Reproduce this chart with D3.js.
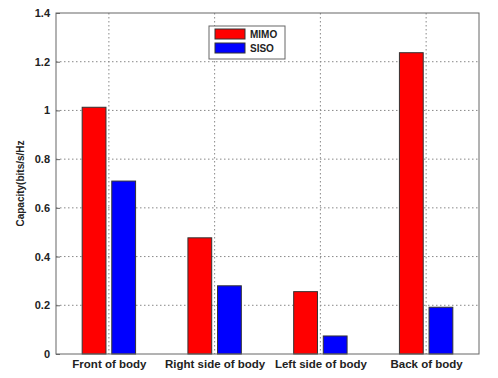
<!DOCTYPE html>
<html>
<head>
<meta charset="utf-8">
<script src="https://cdn.jsdelivr.net/npm/d3@7"></script>
<style>
  body { margin: 0; background: #fff; }
  text { font-family: "Liberation Sans", Arial, sans-serif; font-weight: bold; fill: #222; }
</style>
</head>
<body>
<svg id="chart" width="498" height="378"></svg>
<script>
// data
const categories = ['Front of body', 'Right side of body', 'Left side of body', 'Back of body'];
const seriesNames = ['MIMO', 'SISO'];
const mimoValues = [1.013, 0.477, 0.256, 1.237];
const sisoValues = [0.710, 0.280, 0.074, 0.192];
const yTicks = [0, 0.2, 0.4, 0.6, 0.8, 1, 1.2, 1.4];
const colors = ['#ff0000', '#0000ff'];

const margin = {top: 13, right: 19, bottom: 24, left: 56};
const width = 498 - margin.left - margin.right;
const height = 378 - margin.top - margin.bottom;

const svg = d3.select('#chart');
const chart = svg.append('g')
    .attr('transform', `translate(${margin.left},${margin.top})`);

// matlab-style x: category i sits at i+1, limits [0.5, 4.5]
const x = d3.scaleLinear().domain([0.5, categories.length + 0.5]).range([0, width]);
const y = d3.scaleLinear().domain([0, 1.4]).range([height, 0]);

// grid lines
chart.append('g').selectAll('line.gy')
    .data(yTicks.slice(1, -1))
  .join('line')
    .attr('x1', 0).attr('x2', width)
    .attr('y1', d => y(d)).attr('y2', d => y(d))
    .attr('stroke', '#888').attr('stroke-dasharray', '1.5,2.5');

chart.append('g').selectAll('line.gx')
    .data(categories)
  .join('line')
    .attr('x1', (d, i) => x(i + 1)).attr('x2', (d, i) => x(i + 1))
    .attr('y1', 0).attr('y2', height)
    .attr('stroke', '#888').attr('stroke-dasharray', '1.5,2.5');

// bars
const barW = 0.225;
const offsets = [-0.14, 0.14];
const rows = categories.map((c, i) => ({i, vals: [mimoValues[i], sisoValues[i]]}));

rows.forEach(r => {
  r.vals.forEach((v, s) => {
    const cx = r.i + 1 + offsets[s];
    chart.append('rect')
        .attr('x', x(cx - barW / 2))
        .attr('y', y(v))
        .attr('width', x(cx + barW / 2) - x(cx - barW / 2))
        .attr('height', y(0) - y(v))
        .attr('fill', colors[s])
        .attr('stroke', '#333')
        .attr('stroke-width', 1);
  });
});

// axes box
chart.append('rect')
    .attr('width', width).attr('height', height)
    .attr('fill', 'none').attr('stroke', '#666').attr('stroke-width', 1);

const yAxis = d3.axisLeft(y).tickValues(yTicks).tickFormat(d3.format('~g')).tickSize(4).tickPadding(4);
const yG = chart.append('g').call(yAxis);
yG.select('.domain').remove();
yG.selectAll('line').attr('stroke', '#666').attr('x2', 4);
yG.selectAll('text').attr('font-size', 11).attr('font-weight', 'bold').attr('x', -6);

const xAxis = d3.axisBottom(x).tickValues([1, 2, 3, 4]).tickFormat((d) => categories[d - 1]).tickSize(0).tickPadding(6);
const xG = chart.append('g').attr('transform', `translate(0,${height})`).call(xAxis);
xG.select('.domain').remove();
xG.selectAll('text').attr('font-size', 11.5).attr('font-weight', 'bold');

// y label
svg.append('text')
    .attr('transform', `translate(24,${margin.top + y(0.7)}) rotate(-90)`)
    .attr('text-anchor', 'middle')
    .attr('font-size', 10)
    .text('Capacity(bits/s/Hz');

// legend
const lg = svg.append('g').attr('transform', 'translate(209,26)');
lg.append('rect').attr('width', 76).attr('height', 33)
    .attr('fill', '#fff').attr('stroke', '#666');
seriesNames.forEach((n, s) => {
  lg.append('rect')
      .attr('x', 6).attr('y', 3 + s * 14)
      .attr('width', 30).attr('height', 10)
      .attr('fill', colors[s]).attr('stroke', '#333');
  lg.append('text')
      .attr('x', 41).attr('y', 12 + s * 14)
      .attr('font-size', 10)
      .text(n);
});
</script>
</body>
</html>
